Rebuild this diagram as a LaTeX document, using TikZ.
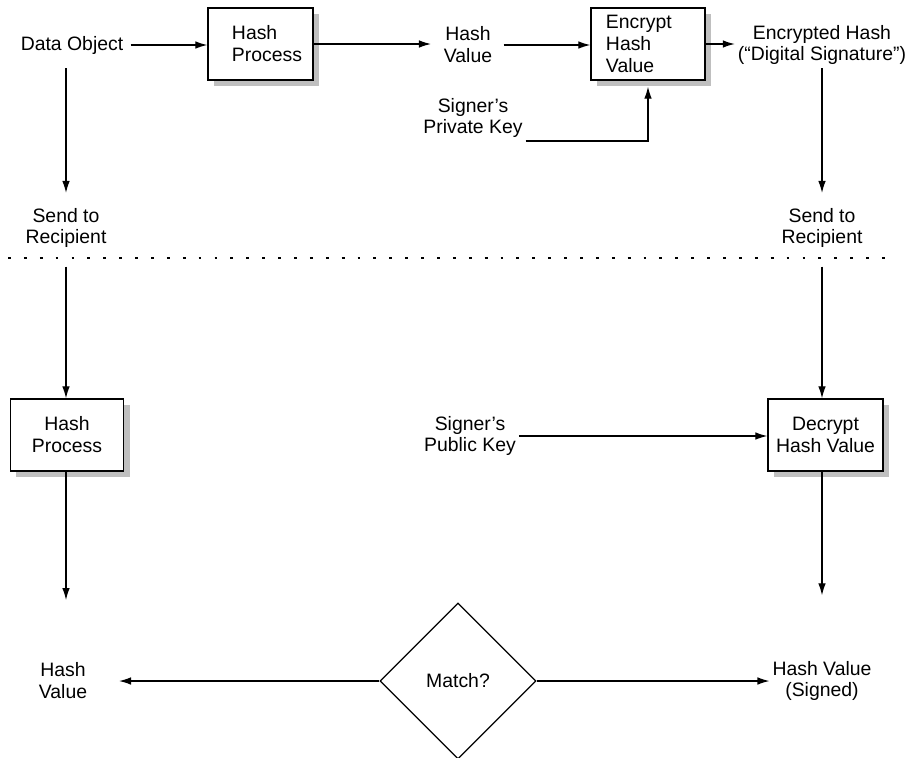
\documentclass[tikz,border=0pt]{standalone}
\usepackage{fontspec}
\setmainfont{Liberation Sans}
\usetikzlibrary{positioning,arrows.meta,shapes.geometric,shadows}

\tikzset{
  flow/.style={line width=0.9pt, -{Latex[length=3mm,width=1.9mm]}},
  procbox/.style={draw, line width=0.9pt, fill=white, minimum width=#1,
    minimum height=1.8cm, align=center,
    drop shadow={shadow xshift=0.15cm, shadow yshift=-0.15cm, fill=black!25, opacity=1}},
  leftbox/.style={align=left, inner xsep=0pt, text width=#1},
  lbl/.style={align=center, inner sep=2pt},
  cutline/.style={line width=2pt, dash pattern=on 2pt off 9.3pt}
}

\begin{document}
\begin{tikzpicture}[x=0.025cm, y=-0.025cm, font=\fontsize{13.8}{15.6}\selectfont]
    \useasboundingbox (0,0) rectangle (908,757);

    % Signing side
    \node[lbl] (dobj) at (72,45) {Data Object};
    \node[procbox=2.625cm, leftbox=1.425cm] (hp1) at (260.5,44) {Hash\\Process};
    \node[lbl] (hv1) at (468,45) {Hash\\Value};
    \node[procbox=2.85cm, leftbox=2.1cm] (enc) at (648,44) {Encrypt\\Hash\\Value};
    \node[lbl] (sig) at (822,45) {Encrypted Hash\\(“Digital Signature”)};
    \node[lbl] (priv) at (473,118) {Signer’s\\Private Key};
    \node[lbl] (send1) at (66,228) {Send to\\Recipient};
    \node[lbl] (send2) at (822,228) {Send to\\Recipient};

    % Cut between sender and recipient
    \coordinate (cutl) at (8,258);
    \coordinate (cutr) at (886,258);
    \draw[cutline] (cutl) -- (cutr);

    % Verifying side
    \node[procbox=2.825cm] (hp2) at (67,435) {Hash\\Process};
    \node[procbox=2.875cm] (dec) at (825.5,435) {Decrypt\\Hash Value};
    \node[lbl] (pub) at (470,436) {Signer’s\\Public Key};
    \node[lbl] (hv2) at (63,681) {Hash\\Value};
    \node[lbl] (hvs) at (822,681) {Hash Value\\(Signed)};
    \node[draw, diamond, line width=0.9pt, minimum width=3.9cm,
      minimum height=3.9cm, inner sep=0pt] (match) at (458,681) {Match?};

    % Arrows
    \draw[flow, shorten <=3pt] (dobj) -- (dobj -| hp1.west);
    \draw[flow, shorten >=7pt] (hp1) -- (hp1 -| hv1.west);
    \draw[flow, shorten <=6pt] (hv1) -- (hv1 -| enc.west);
    \draw[flow] (enc) -- (enc -| sig.west);
    \draw[flow, shorten >=0.15cm] (priv.south east) -| (enc.south);
    \draw[flow, shorten <=8pt, shorten >=8.5pt] (send1 |- dobj.south) -- (send1);
    \draw[flow, shorten >=8.5pt] (sig) -- (send2);
    \draw[flow, shorten <=11pt] (send1) -- (send1 |- hp2.north);
    \draw[flow, shorten <=11pt] (send2) -- (send2 |- dec.north);
    \draw[flow] (pub) -- (pub -| dec.west);
    \draw[flow, shorten >=42.5pt] (send1 |- hp2.south) -- (send1 |- hv2.north);
    \draw[flow, shorten >=44.5pt] (hvs |- dec.south) -- (hvs);
    \draw[flow, shorten >=20.5pt] (match.west) -- (match.west -| hv2.east);
    \draw[flow] (match.east) -- (match.east -| hvs.west);

\end{tikzpicture}
\end{document}
